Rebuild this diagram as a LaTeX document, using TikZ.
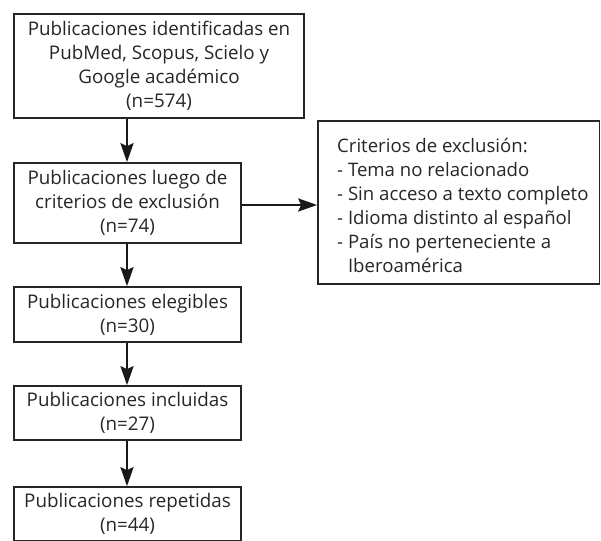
\documentclass[tikz,border=0pt]{standalone}
\usepackage{fontspec}
\setmainfont{Open Sans}
\usetikzlibrary{arrows.meta,calc}
\begin{document}
\begin{tikzpicture}[x=1pt,y=1pt,
  box/.style={draw=black!85,line width=1.6pt,align=center,inner sep=0pt,
    font=\fontsize{18.8}{24}\selectfont,text=black!85},
  conn/.style={line width=2.6pt,draw=black!90,-{Stealth[length=19pt,width=13pt,inset=3pt]}}]
\useasboundingbox (0,0) rectangle (601,540);
\begin{scope}
\clip (0,0) rectangle (601,540);
\node[box,minimum width=290pt,minimum height=104pt] (b1) at (159,474)
  {Publicaciones identificadas en\\PubMed, Scopus, Scielo y\\Google académico\\(n=574)};
\node[box,minimum width=227pt,minimum height=80pt] (b2) at (127.5,337)
  {Publicaciones luego de\\criterios de exclusión\\(n=74)};
\node[box,minimum width=281.5pt,minimum height=163pt] (r) at (458.75,337.5) {};
\node[anchor=west,align=left,inner sep=0pt,font=\fontsize{18.6}{24}\selectfont,text=black!85] (rt) at (337,335)
  {Criterios de exclusión:\\- Tema no relacionado\\- Sin acceso a texto completo\\- Idioma distinto al español\\- País no perteneciente a\\\hphantom{- }Iberoamérica};
\node[box,minimum width=227pt,minimum height=55pt] (b4) at (127.5,225.5)
  {Publicaciones elegibles\\(n=30)};
\node[box,minimum width=227pt,minimum height=54pt] (b5) at (127.5,127)
  {Publicaciones incluidas\\(n=27)};
\node[box,minimum width=227pt,minimum height=54pt] (b6) at (127.5,26)
  {Publicaciones repetidas\\(n=44)};
\coordinate (ax) at (127,0);
\draw[conn] (b1.south -| ax) -- (b2.north -| ax);
\draw[conn] (b2.south -| ax) -- (b4.north -| ax);
\draw[conn] (b4.south -| ax) -- (b5.north -| ax);
\draw[conn] (b5.south -| ax) -- (b6.north -| ax);
\draw[conn] ($(b2.east)+(0,-2)$) -- ($(b2.east -| r.west)+(0,-2)$);
\end{scope}
\end{tikzpicture}
\end{document}
